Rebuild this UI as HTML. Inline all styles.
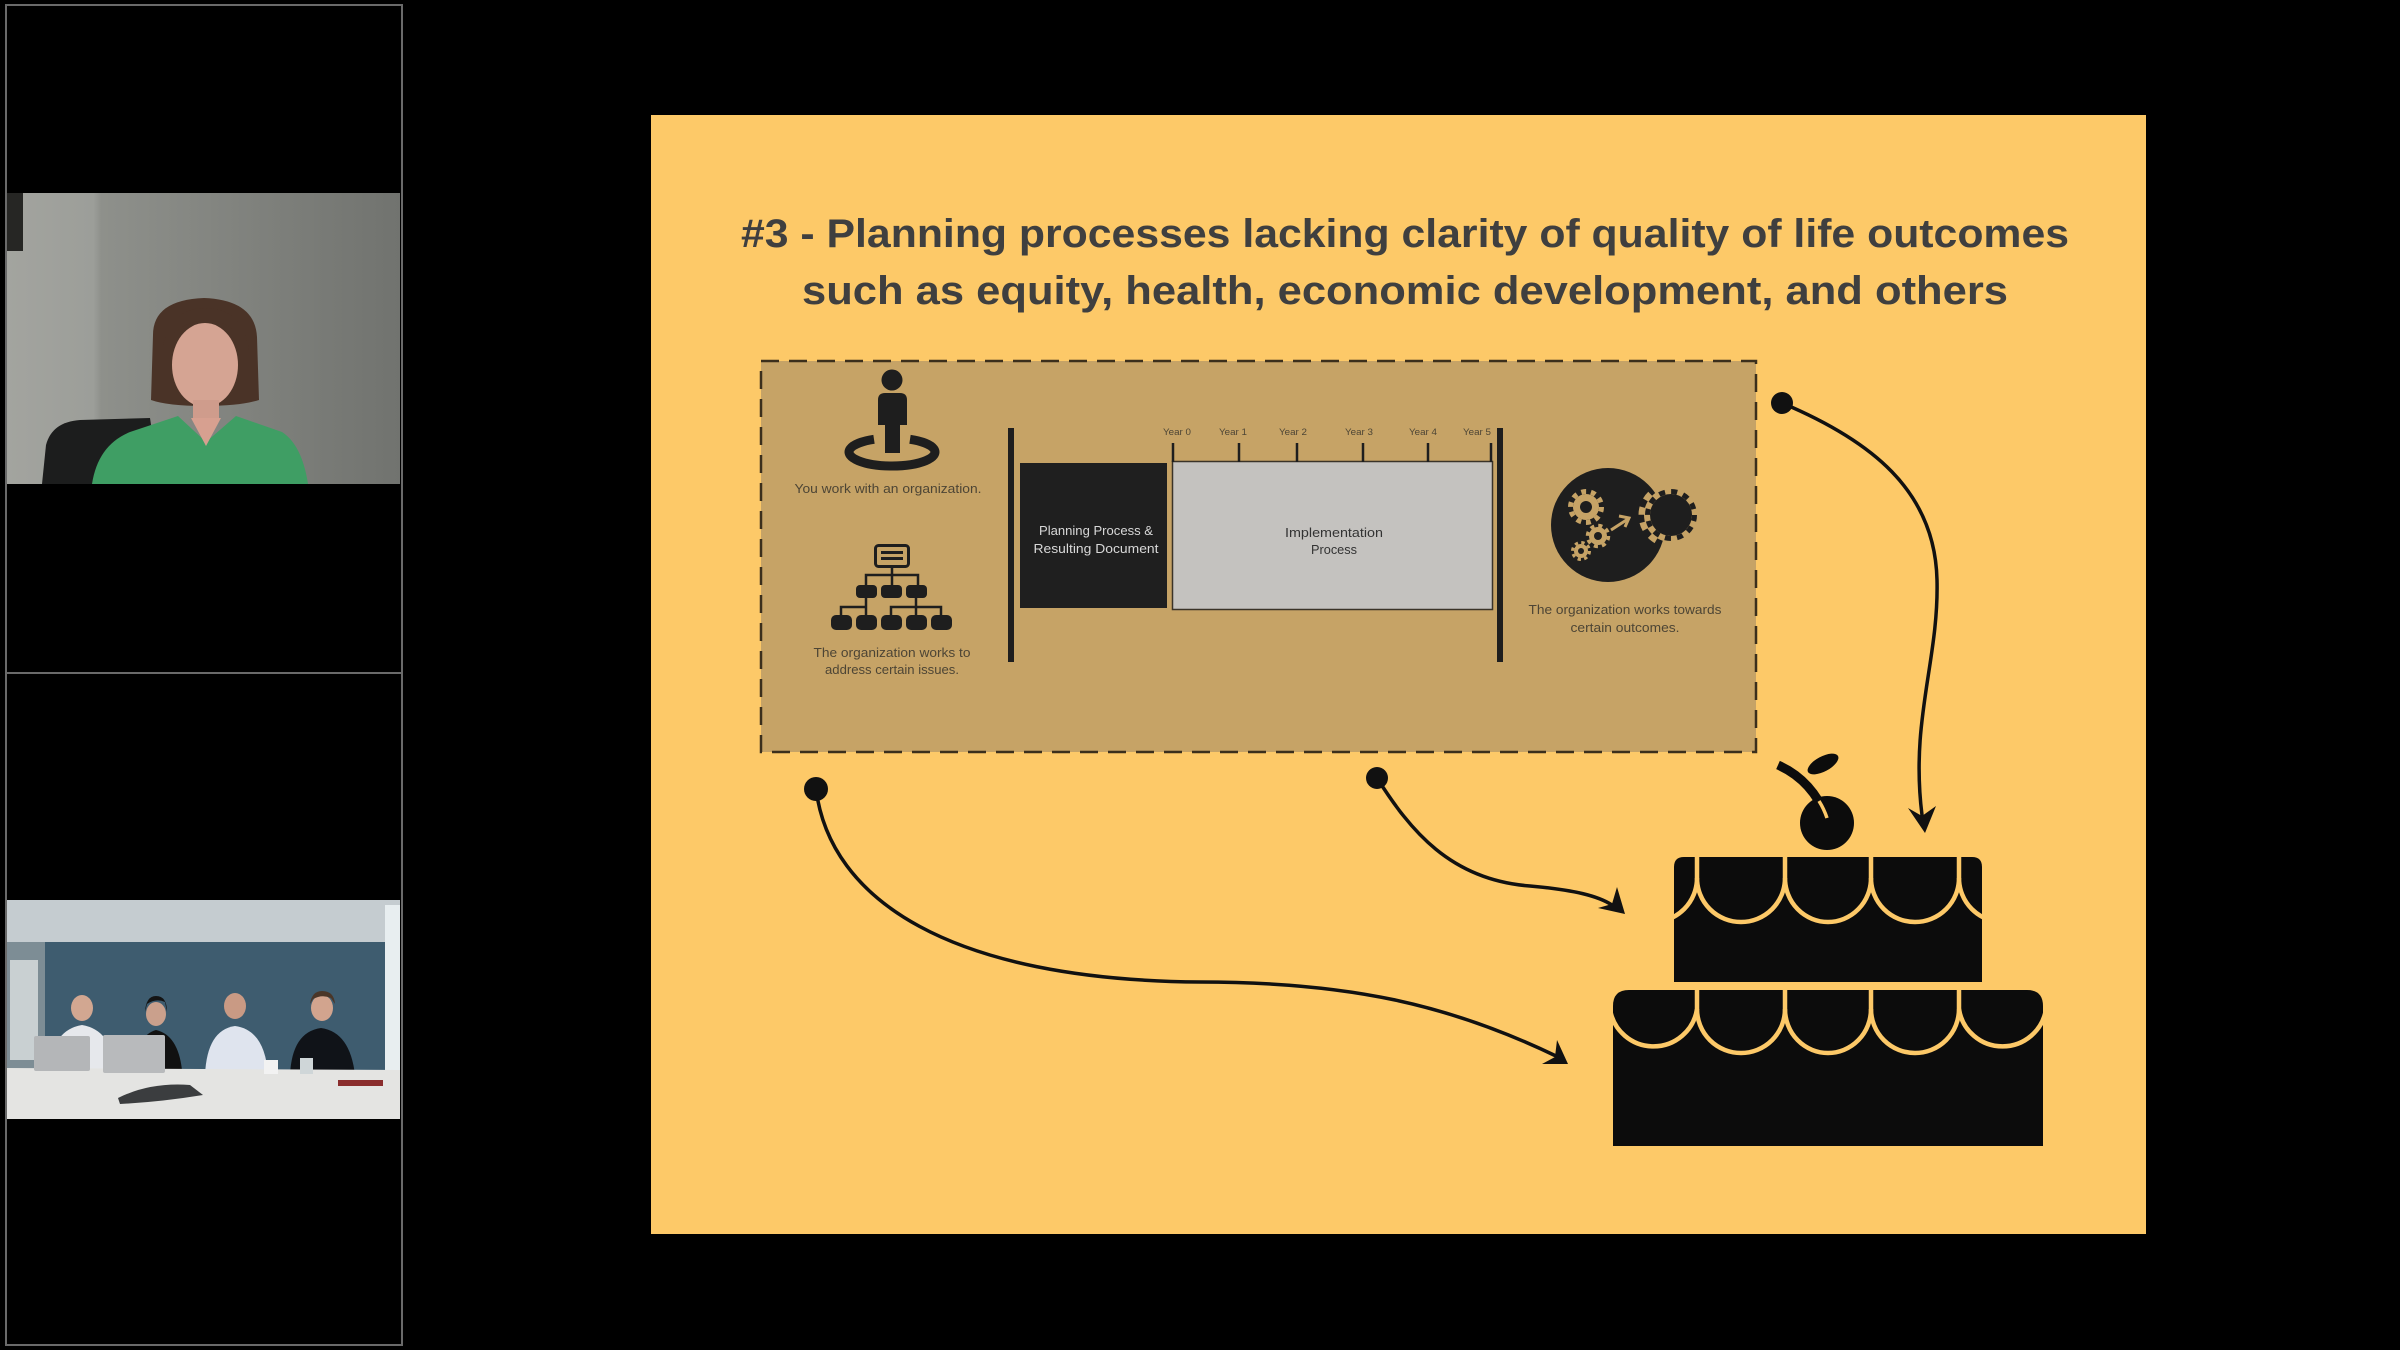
<!DOCTYPE html>
<html><head><meta charset="utf-8"><style>
html,body{margin:0;padding:0;background:#000;}
svg{display:block;}
</style></head><body>
<svg width="2400" height="1350" viewBox="0 0 2400 1350" xmlns="http://www.w3.org/2000/svg">
<defs>
<linearGradient id="wall1" x1="0" y1="0" x2="1" y2="0">
<stop offset="0" stop-color="#a3a49f"/><stop offset="0.22" stop-color="#9c9e99"/><stop offset="0.24" stop-color="#8e908b"/><stop offset="1" stop-color="#71736f"/>
</linearGradient>
<clipPath id="v1"><rect x="7" y="193" width="393" height="291"/></clipPath>
<clipPath id="v2"><rect x="7" y="900" width="393" height="219"/></clipPath>
<clipPath id="tier1"><path d="M1674,982 V867 Q1674,857 1684,857 H1972 Q1982,857 1982,867 V982 Z"/></clipPath>
<clipPath id="tier2"><path d="M1613,1146 V1006 Q1613,990 1629,990 H2027 Q2043,990 2043,1006 V1146 Z"/></clipPath>
</defs>
<rect width="2400" height="1350" fill="#000"/>

<!-- left panel -->
<rect x="6" y="5" width="396" height="1340" fill="none" stroke="#6a6a6a" stroke-width="2"/>
<line x1="6" y1="673" x2="402" y2="673" stroke="#6a6a6a" stroke-width="2"/>

<!-- video 1 -->
<g clip-path="url(#v1)">
<rect x="7" y="193" width="393" height="291" fill="url(#wall1)"/>
<rect x="7" y="193" width="16" height="58" fill="#262624"/>
<path d="M42,484 L46,445 Q52,422 80,420 L150,418 L160,484 Z" fill="#1c1d1d"/>
<path d="M153,335 Q153,300 204,298 Q255,300 257,337 L259,400 Q240,406 204,406 Q168,406 151,400 Z" fill="#4a3327"/>
<ellipse cx="205" cy="365" rx="33" ry="42" fill="#d5a493"/>
<path d="M163,345 Q172,308 205,308 Q242,308 249,350 Q233,320 205,320 Q178,323 163,345 Z" fill="#4a3327"/>
<rect x="193" y="400" width="26" height="18" fill="#cf9c8c"/>
<path d="M92,484 Q98,445 130,432 L178,416 L206,442 L236,416 L282,432 Q302,445 308,484 Z" fill="#3f9e64"/>
<path d="M191,418 L206,446 L221,418 Z" fill="#d7a090"/>
</g>

<!-- video 2 -->
<g clip-path="url(#v2)">
<rect x="7" y="900" width="393" height="219" fill="#3e5c6f"/>
<rect x="7" y="900" width="393" height="42" fill="#c5ccd0"/>
<rect x="7" y="942" width="38" height="128" fill="#7d8d95"/>
<rect x="10" y="960" width="28" height="100" fill="#c9d0d2"/>
<rect x="385" y="905" width="15" height="170" fill="#e8eef0"/>
<path d="M50,1070 Q52,1030 82,1025 Q112,1030 115,1070 Z" fill="#e6e8ec"/>
<ellipse cx="82" cy="1008" rx="11" ry="13" fill="#d2a791"/>
<path d="M135,1070 Q137,1035 156,1030 Q178,1035 182,1070 Z" fill="#111"/>
<ellipse cx="156" cy="1014" rx="10" ry="12" fill="#caa08c"/>
<path d="M145,1012 Q146,996 156,996 Q167,996 167,1012 L165,1002 Q156,998 147,1004 Z" fill="#141414"/>
<path d="M205,1075 Q207,1030 235,1026 Q265,1030 268,1075 Z" fill="#dfe4ee"/>
<ellipse cx="235" cy="1006" rx="11" ry="13" fill="#c99a84"/>
<path d="M290,1075 Q292,1032 321,1028 Q350,1032 355,1075 Z" fill="#101318"/>
<ellipse cx="322" cy="1008" rx="11" ry="13" fill="#d2a48e"/>
<path d="M310,1004 Q312,991 322,991 Q334,991 335,1004 L331,998 Q322,994 313,999 Z" fill="#4a3628"/>
<path d="M7,1068 L400,1070 L400,1119 L7,1119 Z" fill="#e4e4e2"/>
<rect x="34" y="1036" width="56" height="35" rx="2" fill="#b4b6b8"/>
<rect x="103" y="1035" width="62" height="38" rx="2" fill="#b8babc"/>
<path d="M118,1098 Q150,1082 190,1085 L203,1095 Q160,1102 120,1104 Z" fill="#3b3d3f"/>
<rect x="264" y="1060" width="14" height="14" fill="#f2f2f2"/>
<rect x="300" y="1058" width="13" height="16" fill="#cfd6d8"/>
<rect x="338" y="1080" width="45" height="6" fill="#8a2d2d"/>
</g>

<!-- slide -->
<rect x="651" y="115" width="1495" height="1119" fill="#fdc968"/>
<text x="1405" y="247" text-anchor="middle" font-family="Liberation Sans, sans-serif" font-weight="bold" font-size="40" fill="#3f3f3f" textLength="1328" lengthAdjust="spacingAndGlyphs">#3 - Planning processes lacking clarity of quality of life outcomes</text>
<text x="1405" y="304" text-anchor="middle" font-family="Liberation Sans, sans-serif" font-weight="bold" font-size="40" fill="#3f3f3f" textLength="1206" lengthAdjust="spacingAndGlyphs">such as equity, health, economic development, and others</text>

<!-- dashed box -->
<rect x="761" y="361" width="995" height="391" fill="#c6a366" stroke="#3b2f1c" stroke-width="2.5" stroke-dasharray="18 10"/>

<!-- person icon -->
<circle cx="892" cy="380" r="10.5" fill="#1e1e1e"/>
<path d="M878,425 V400 Q878,393 885,393 H900 Q907,393 907,400 V425 Z" fill="#1e1e1e"/>
<rect x="885" y="420" width="15" height="33" fill="#1e1e1e"/>
<path d="M874,439.3 A43,14 0 1 0 910,439.3" fill="none" stroke="#1e1e1e" stroke-width="9"/>
<text x="888" y="493" text-anchor="middle" font-family="Liberation Sans, sans-serif" font-size="13" fill="#4d4535" textLength="187" lengthAdjust="spacingAndGlyphs">You work with an organization.</text>

<!-- org chart icon -->
<rect x="875.5" y="545.5" width="33" height="21" rx="3" fill="none" stroke="#1e1e1e" stroke-width="3"/>
<rect x="881" y="551" width="22" height="3" fill="#1e1e1e"/>
<rect x="881" y="557" width="22" height="3" fill="#1e1e1e"/>
<g stroke="#1e1e1e" stroke-width="2.5" fill="none">
<path d="M892,567 V575 M866,586 V575 H918 V586 M892,575 V586"/>
<path d="M866,598 V607 M841,616 V607 H866 V616"/>
<path d="M916,598 V607 M891,616 V607 H941 V616 M916,607 V616"/>
</g>
<g fill="#1e1e1e">
<rect x="856" y="585" width="21" height="13" rx="4"/>
<rect x="881" y="585" width="21" height="13" rx="4"/>
<rect x="906" y="585" width="21" height="13" rx="4"/>
<rect x="831" y="615" width="21" height="15" rx="5"/>
<rect x="856" y="615" width="21" height="15" rx="5"/>
<rect x="881" y="615" width="21" height="15" rx="5"/>
<rect x="906" y="615" width="21" height="15" rx="5"/>
<rect x="931" y="615" width="21" height="15" rx="5"/>
</g>
<text x="892" y="657" text-anchor="middle" font-family="Liberation Sans, sans-serif" font-size="13" fill="#4d4535" textLength="157" lengthAdjust="spacingAndGlyphs">The organization works to</text>
<text x="892" y="674" text-anchor="middle" font-family="Liberation Sans, sans-serif" font-size="13" fill="#4d4535" textLength="134" lengthAdjust="spacingAndGlyphs">address certain issues.</text>

<!-- timeline -->
<rect x="1008" y="428" width="6" height="234" fill="#1e1e1e"/>
<rect x="1497" y="428" width="6" height="234" fill="#1e1e1e"/>
<rect x="1020" y="463" width="147" height="145" fill="#1f1f1f"/>
<rect x="1172.5" y="461.5" width="320" height="148" fill="#c4c2bf" stroke="#3a3328" stroke-width="1.5"/>
<g stroke="#1e1e1e" stroke-width="2.5">
<line x1="1173" y1="443" x2="1173" y2="462"/>
<line x1="1239" y1="443" x2="1239" y2="462"/>
<line x1="1297" y1="443" x2="1297" y2="462"/>
<line x1="1363" y1="443" x2="1363" y2="462"/>
<line x1="1428" y1="443" x2="1428" y2="462"/>
<line x1="1491" y1="443" x2="1491" y2="462"/>
</g>
<g font-family="Liberation Sans, sans-serif" font-size="9.5" fill="#4d4535" text-anchor="middle">
<text x="1177" y="435" textLength="28" lengthAdjust="spacingAndGlyphs">Year 0</text>
<text x="1233" y="435" textLength="28" lengthAdjust="spacingAndGlyphs">Year 1</text>
<text x="1293" y="435" textLength="28" lengthAdjust="spacingAndGlyphs">Year 2</text>
<text x="1359" y="435" textLength="28" lengthAdjust="spacingAndGlyphs">Year 3</text>
<text x="1423" y="435" textLength="28" lengthAdjust="spacingAndGlyphs">Year 4</text>
<text x="1477" y="435" textLength="28" lengthAdjust="spacingAndGlyphs">Year 5</text>
</g>
<text x="1096" y="535" text-anchor="middle" font-family="Liberation Sans, sans-serif" font-size="13" fill="#d8d8d8" textLength="114" lengthAdjust="spacingAndGlyphs">Planning Process &amp;</text>
<text x="1096" y="553" text-anchor="middle" font-family="Liberation Sans, sans-serif" font-size="13" fill="#d8d8d8" textLength="125" lengthAdjust="spacingAndGlyphs">Resulting Document</text>
<text x="1334" y="537" text-anchor="middle" font-family="Liberation Sans, sans-serif" font-size="13" fill="#333" textLength="98" lengthAdjust="spacingAndGlyphs">Implementation</text>
<text x="1334" y="554" text-anchor="middle" font-family="Liberation Sans, sans-serif" font-size="13" fill="#333" textLength="46" lengthAdjust="spacingAndGlyphs">Process</text>

<!-- gears icon -->
<circle cx="1608" cy="525" r="57" fill="#1e1e1e"/>
<circle cx="1671" cy="515" r="27" fill="#c6a366"/>
<circle cx="1671" cy="515" r="29" fill="none" stroke="#c6a366" stroke-width="7" stroke-dasharray="7.6 7.6"/>
<circle cx="1671" cy="515" r="21" fill="#1e1e1e"/>
<circle cx="1671" cy="515" r="23.5" fill="none" stroke="#1e1e1e" stroke-width="5" stroke-dasharray="6.15 6.15"/>
<g fill="#c6a366">
<circle cx="1586" cy="507" r="13"/>
<circle cx="1598" cy="536" r="9"/>
<circle cx="1581" cy="551" r="7"/>
</g>
<g fill="none" stroke="#c6a366">
<circle cx="1586" cy="507" r="15.5" stroke-width="5" stroke-dasharray="4.87 4.87"/>
<circle cx="1598" cy="536" r="10.5" stroke-width="3.5" stroke-dasharray="4.12 4.12"/>
<circle cx="1581" cy="551" r="8.5" stroke-width="3" stroke-dasharray="3.34 3.34"/>
<path d="M1611,530 L1628,519 M1619,516 L1629,518 L1625,527" stroke-width="3"/>
</g>
<g fill="#1e1e1e">
<circle cx="1586" cy="507" r="6"/>
<circle cx="1598" cy="536" r="4"/>
<circle cx="1581" cy="551" r="3"/>
</g>
<text x="1625" y="614" text-anchor="middle" font-family="Liberation Sans, sans-serif" font-size="13" fill="#4d4535" textLength="193" lengthAdjust="spacingAndGlyphs">The organization works towards</text>
<text x="1625" y="632" text-anchor="middle" font-family="Liberation Sans, sans-serif" font-size="13" fill="#4d4535" textLength="109" lengthAdjust="spacingAndGlyphs">certain outcomes.</text>

<!-- connectors -->
<g fill="none" stroke="#111" stroke-width="3.5" stroke-linecap="round">
<path d="M1782,403 C1870,440 1935,490 1937,580 C1939,660 1910,720 1922,815"/>
<path d="M1377,778 C1410,830 1450,880 1530,886 C1575,890 1598,896 1612,905"/>
<path d="M816,789 C830,900 950,980 1200,982 C1350,982 1450,1005 1556,1056"/>
</g>
<g fill="#111">
<circle cx="1782" cy="403" r="11"/>
<circle cx="1377" cy="778" r="11"/>
<circle cx="816" cy="789" r="12"/>
<polygon points="1925,833 1908,808 1922,816 1936,806"/>
<polygon points="1625,914 1598,908 1612,904 1617,887"/>
<polygon points="1568,1064 1542,1064 1555,1057 1557,1040"/>
</g>

<!-- cake -->
<path d="M1674,982 V867 Q1674,857 1684,857 H1972 Q1982,857 1982,867 V982 Z" fill="#0c0c0c"/>
<g clip-path="url(#tier1)" fill="none" stroke="#fdc968" stroke-width="4.5">
<path d="M1609,857 V878 A44,44 0 0 0 1697,878 V857"/>
<path d="M1697,878 A44,44 0 0 0 1785,878 V857"/>
<path d="M1785,878 A43,44 0 0 0 1871,878 V857"/>
<path d="M1871,878 A44,44 0 0 0 1959,878 V857"/>
<path d="M1959,878 A44,44 0 0 0 2047,878"/>
</g>
<path d="M1613,1146 V1006 Q1613,990 1629,990 H2027 Q2043,990 2043,1006 V1146 Z" fill="#0c0c0c"/>
<g clip-path="url(#tier2)" fill="none" stroke="#fdc968" stroke-width="4.5">
<path d="M1610,1009 A44,44 0 0 0 1697,1009 V990"/>
<path d="M1697,1009 A44,44 0 0 0 1785,1009 V990"/>
<path d="M1785,1009 A43,44 0 0 0 1871,1009 V990"/>
<path d="M1871,1009 A44,44 0 0 0 1959,1009 V990"/>
<path d="M1959,1009 A44,44 0 0 0 2046,1009"/>
</g>
<circle cx="1827" cy="823" r="27" fill="#0c0c0c"/>
<path d="M1778,765 Q1812,780 1827,818" fill="none" stroke="#0c0c0c" stroke-width="9"/>
<path d="M1819,801 Q1824,809 1827,818" fill="none" stroke="#fdc968" stroke-width="3.5"/>
<ellipse cx="1823" cy="764" rx="17" ry="7.5" transform="rotate(-28 1823 764)" fill="#0c0c0c"/>
</svg>
</body></html>
